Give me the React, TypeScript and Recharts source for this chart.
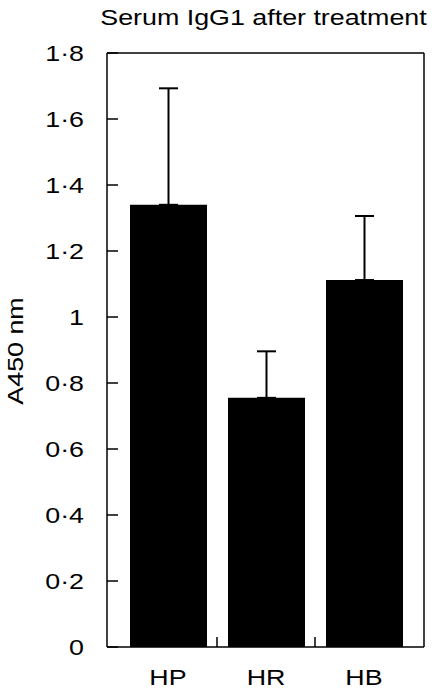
import React from "react";
import {
  BarChart,
  Bar,
  XAxis,
  YAxis,
  ErrorBar,
  Label,
} from "recharts";

const groups = ["HP", "HR", "HB"];
const means = [1.34, 0.755, 1.112];
const errUp = [0.353, 0.141, 0.194];
const yTicks = [0, 0.2, 0.4, 0.6, 0.8, 1, 1.2, 1.4, 1.6, 1.8];

const data = groups.map((g, i) => ({
  name: g,
  value: means[i],
  err: [0, errUp[i]],
}));

const FONT = "'Liberation Sans', Arial, Helvetica, sans-serif";
const STRETCH = 1.22;
const W = 437;
const H = 695;
const M = { top: 52, right: 12, bottom: 0, left: 0 };
const Y_W = 107;
const X_H = 48;
const PAD = { left: 12, right: 11 };
const BAND = (W - M.left - M.right - 1 - Y_W - PAD.left - PAD.right) / groups.length;

const fmt = (v: number) =>
  Number.isInteger(v) ? String(v) : v.toFixed(1).replace(".", "\u00b7");

const WideText = ({ x, y, rotate, children }: any) => (
  <g transform={`translate(${x},${y})${rotate ? ` rotate(${rotate})` : ""}`}>
    <text
      transform={`scale(${STRETCH},1)`}
      textAnchor={rotate !== undefined || x === undefined ? "middle" : undefined}
      dominantBaseline="central"
      fontSize={22}
      fontFamily={FONT}
      fill="#000"
    >
      {children}
    </text>
  </g>
);

const YTick = ({ x, y, payload }: any) => (
  <g>
    <line x1={x} y1={y} x2={x + 11} y2={y} stroke="#000" strokeWidth={1.5} />
    <g transform={`translate(${x - 23},${y})`}>
      <text
        transform={`scale(${STRETCH},1)`}
        textAnchor="end"
        dominantBaseline="central"
        fontSize={22}
        fontFamily={FONT}
        fill="#000"
      >
        {fmt(payload.value)}
      </text>
    </g>
  </g>
);

const XTick = ({ x, y, payload, index }: any) => (
  <g>
    {index < groups.length - 1 && (
      <line
        x1={x + BAND / 2}
        y1={y}
        x2={x + BAND / 2}
        y2={y - 10}
        stroke="#000"
        strokeWidth={1.5}
      />
    )}
    <g transform={`translate(${x},${y + 30})`}>
      <text
        transform={`scale(${STRETCH},1)`}
        textAnchor="middle"
        dominantBaseline="central"
        fontSize={22}
        fontFamily={FONT}
        fill="#000"
      >
        {payload.value}
      </text>
    </g>
  </g>
);

const App: React.FC = () => {
  return (
    <div style={{ position: "absolute", left: 0, top: 0, width: W, height: H }}>
      <BarChart width={W} height={H} data={data} margin={M}>
        <XAxis
          dataKey="name"
          height={X_H}
          padding={PAD}
          axisLine={{ stroke: "#000", strokeWidth: 1.5 }}
          tickLine={false}
          tickSize={0}
          tickMargin={0}
          tick={<XTick />}
          interval={0}
        />
        <XAxis
          xAxisId="top"
          dataKey="name"
          orientation="top"
          height={1}
          tick={false}
          tickLine={false}
          axisLine={{ stroke: "#000", strokeWidth: 1.5 }}
        >
          <Label
            content={({ viewBox }: any) => (
              <g
                transform={`translate(${viewBox.x + viewBox.width / 2 - 2},${
                  viewBox.y - 35
                })`}
              >
                <text
                  transform={`scale(${STRETCH},1)`}
                  textAnchor="middle"
                  dominantBaseline="central"
                  fontSize={22}
                  fontFamily={FONT}
                  fill="#000"
                >
                  Serum IgG1 after treatment
                </text>
              </g>
            )}
          />
        </XAxis>
        <YAxis
          width={Y_W}
          domain={[0, 1.8]}
          ticks={yTicks}
          interval={0}
          axisLine={{ stroke: "#000", strokeWidth: 1.5 }}
          tickLine={false}
          tickSize={0}
          tickMargin={0}
          tick={<YTick />}
        >
          <Label
            content={({ viewBox }: any) => (
              <g
                transform={`translate(15,${viewBox.y + viewBox.height / 2 + 1}) rotate(-90)`}
              >
                <text
                  transform={`scale(${STRETCH},1)`}
                  textAnchor="middle"
                  dominantBaseline="central"
                  fontSize={22}
                  fontFamily={FONT}
                  fill="#000"
                >
                  A450 nm
                </text>
              </g>
            )}
          />
        </YAxis>
        <YAxis
          yAxisId="right"
          orientation="right"
          width={1}
          domain={[0, 1.8]}
          tick={false}
          tickLine={false}
          axisLine={{ stroke: "#000", strokeWidth: 1.5 }}
        />
        <Bar dataKey="value" fill="#000" barSize={77} isAnimationActive={false}>
          <ErrorBar
            dataKey="err"
            width={9.5}
            stroke="#000"
            strokeWidth={2}
            direction="y"
          />
        </Bar>
      </BarChart>
    </div>
  );
};

export default App;
